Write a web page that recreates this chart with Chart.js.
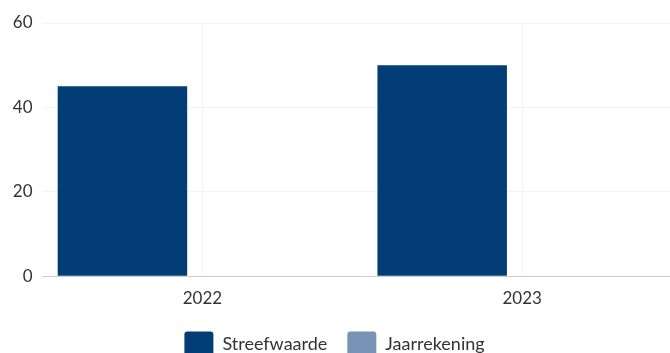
<!DOCTYPE html>
<html>
<head>
<meta charset="utf-8">
<script src="https://cdn.jsdelivr.net/npm/chart.js@4/dist/chart.umd.min.js"></script>
<style>
  html, body { margin: 0; padding: 0; background: #fff; overflow: hidden; }
  #chart { display: block; }
</style>
</head>
<body>
<canvas id="chart" width="682" height="370"></canvas>
<script>
var years = ["2022", "2023"]
var streefwaarde = [45, 50]
var jaarrekening = [null, null]
var yTicks = [0, 20, 40, 60]

var faint = "#f3f3f3"

// the plot runs a bit past the right edge of the page, the page clips it
new Chart(document.getElementById("chart"), {
  type: "bar",
  data: {
    labels: years,
    datasets: [
      {
        label: "Streefwaarde",
        data: streefwaarde,
        backgroundColor: "#023e75",
        categoryPercentage: 1,
        barPercentage: 0.81,
      },
      {
        label: "Jaarrekening",
        data: jaarrekening,
        backgroundColor: "#7a91b8",
        categoryPercentage: 1,
        barPercentage: 0.81,
      },
    ],
  },
  options: {
    responsive: false,
    animation: false,
    layout: {
      padding: { left: -13, right: 0, top: 23, bottom: 2.5 },
    },
    plugins: {
      tooltip: { enabled: false },
      legend: {
        position: "bottom",
        labels: {
          boxWidth: 29,
          boxHeight: 26,
          padding: 20,
          useBorderRadius: true,
          borderRadius: 3,
          color: "#333",
          font: { family: "Lato", size: 18 },
        },
      },
    },
    scales: {
      x: {
        offset: true,
        afterFit: function (scale) { scale.height = scale.height - 9.2 },
        grid: { offset: false, color: faint, drawTicks: false },
        border: { display: true, color: "#cccccc" },
        ticks: {
          padding: 12,
          color: "#333",
          font: { family: "Lato", size: 17 },
        },
      },
      y: {
        min: yTicks[0],
        max: yTicks[yTicks.length - 1],
        afterFit: function (scale) { scale.width = 55.5 },
        afterBuildTicks: function (scale) {
          scale.ticks = yTicks.map(function (v) { return { value: v } })
        },
        grid: { color: faint, drawTicks: false },
        border: { display: false },
        ticks: {
          padding: 10,
          color: "#333",
          font: { family: "Lato", size: 17 },
        },
      },
    },
  },
})
</script>
</body>
</html>
